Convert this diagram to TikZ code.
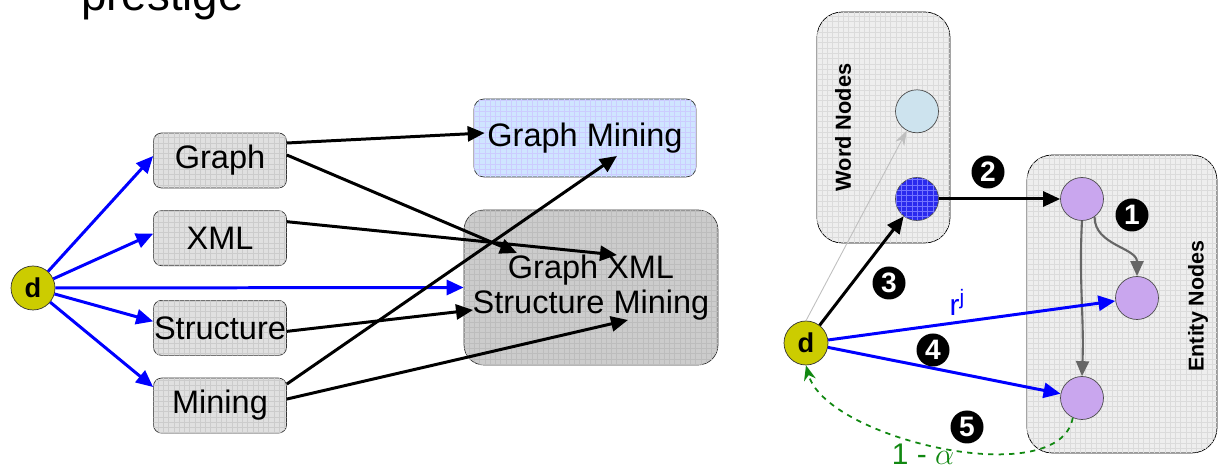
\documentclass[tikz,border=0pt]{standalone}
\usepackage{fontspec}
\setmainfont{Liberation Sans}
\usetikzlibrary{arrows.meta, positioning, patterns}

\definecolor{boxgray}{HTML}{E0E0E0}
\definecolor{biggray}{HTML}{CCCCCC}
\definecolor{panelgray}{HTML}{EEEEEE}
\definecolor{gmblue}{HTML}{CFE5FF}
\definecolor{dyellow}{HTML}{CCCC00}
\definecolor{wordlight}{HTML}{CDE3EE}
\definecolor{wordblue}{HTML}{2A2AEE}
\definecolor{entlilac}{HTML}{C9A6EE}
\definecolor{darkgreen}{HTML}{118811}

\begin{document}
\begin{tikzpicture}[x=0.02cm, y=-0.02cm,
    term/.style={rectangle, draw=black!80, rounded corners=0.16cm, fill=boxgray,
        postaction={pattern=grid, pattern color=black!20},
        minimum width=2.66cm, minimum height=1.1cm, inner sep=0pt,
        font=\fontsize{18.5}{20}\selectfont},
    result/.style={rectangle, draw=black!80, inner sep=0pt, align=center,
        font=\fontsize{18.5}{20}\selectfont},
    panel/.style={rectangle, draw=black, rounded corners=0.5cm, fill=panelgray,
        postaction={pattern=grid, pattern color=black!14}},
    doc/.style={circle, draw=black!80, fill=dyellow, minimum size=0.88cm, inner sep=0pt,
        font=\bfseries\fontsize{15.5}{16}\selectfont},
    vert/.style={circle, draw=black!70, minimum size=0.86cm, inner sep=0pt},
    num/.style={circle, fill=black, text=white, minimum size=0.66cm, inner sep=0pt,
        font=\bfseries\fontsize{16}{16}\selectfont},
    blueline/.style={draw=blue, line width=1.7pt, -{Triangle[length=0.34cm, width=0.3cm]}},
    blackline/.style={draw=black, line width=1.7pt, -{Triangle[length=0.34cm, width=0.3cm]}},
    grayline/.style={draw=black!60, line width=1.2pt, -{Triangle[length=0.3cm, width=0.26cm]}},
    faint/.style={draw=black!25, line width=0.5pt, -{Stealth[length=0.3cm, width=0.2cm]}},
    greendash/.style={draw=darkgreen, dashed, line width=1pt, -{Stealth[length=0.3cm, width=0.24cm]}}
]
\useasboundingbox (0,0) rectangle (1218,475);

% title (cut at the top)
\node[anchor=base west, font=\fontsize{26}{30}\selectfont] (title) at (75,11) {prestige};

% left side: query terms
\node[doc] (dL) at (33,288) {d};
\node[term] (Graph) at (220,160.5) {Graph};
\node[term, below=0.44cm of Graph] (XML) {XML};
\node[term, below=0.68cm of XML] (Structure) {Structure};
\node[term, below=0.44cm of Structure] (Mining) {Mining};

\node[result, rounded corners=0.2cm, fill=gmblue, postaction={pattern=grid, pattern color=blue!20},
    minimum width=4.44cm, minimum height=1.56cm] (GM) at (585,138) {Graph Mining};
\node[result, rounded corners=0.4cm, fill=biggray, postaction={pattern=grid, pattern color=black!26},
    minimum width=5.08cm, minimum height=3.1cm] (GXSM) at (591,287.5) {Graph XML\\Structure Mining};

\draw[blueline] (dL) -- ([yshift=0.09cm]Graph.west);
\draw[blueline] (dL) -- ([yshift=0.09cm]XML.west);
\draw[blueline] (dL) -- (GXSM.west);
\draw[blueline] (dL) -- ([yshift=0.13cm]Structure.west);
\draw[blueline] (dL) -- ([yshift=0.37cm]Mining.west);

\draw[blackline] ([yshift=0.35cm]Graph.east) -- ([xshift=0.22cm, yshift=0.1cm]GM.west);
\draw[blackline] ([yshift=0.11cm]Graph.east) -- ([xshift=-1.48cm, yshift=0.69cm]GXSM.center);
\draw[blackline] ([yshift=0.33cm]XML.east) -- ([xshift=0.52cm, yshift=0.65cm]GXSM.center);
\draw[blackline] ([yshift=-0.07cm]Structure.east) -- ([xshift=-2.36cm, yshift=-0.45cm]GXSM.center);
\draw[blackline] ([yshift=0.43cm]Mining.east) -- ([xshift=0.64cm, yshift=-0.36cm]GM.center);
\draw[blackline] ([yshift=0.13cm]Mining.east) -- ([xshift=0.74cm, yshift=-0.65cm]GXSM.center);

% right side: word and entity graph
\node[panel, minimum width=2.66cm, minimum height=4.62cm] (WordBox) at (883.5,127.5) {};
\node[panel, minimum width=3.8cm, minimum height=5.96cm] (EntityBox) at (1122,304) {};
\node[rotate=90, font=\bfseries\fontsize{12.4}{13}\selectfont] (WordLbl) at (843,127.5) {Word Nodes};
\node[rotate=90, font=\bfseries\fontsize{12.2}{13}\selectfont] (EntityLbl) at (1198,306) {Entity Nodes};

\node[vert, fill=wordblue, postaction={pattern=grid, pattern color=blue!55}] (wBlue) at (917,199) {};
\node[vert, fill=wordlight, above=0.88cm of wBlue] (wLight) {};
\node[vert, fill=entlilac] (e1) at (1082,199) {};
\node[vert, fill=entlilac] (e2) at (1137,298) {};
\node[vert, fill=entlilac] (e3) at (1082,398) {};
\node[doc] (dR) at (806,343) {d};

\draw[faint] (dR.north) -- (wLight);
\draw[blackline] (wBlue) -- (e1);
\draw[blackline] (dR) -- (wBlue);
\draw[grayline] (e1.-55) to[out=-90, in=90] (e2.north);
\draw[grayline] (e1.south) to[out=-93, in=88] (e3.north);
\draw[blueline] (dR) -- (e2) node[pos=0.45, above, text=blue, font=\fontsize{17}{18}\selectfont] {r\textsuperscript{j}};
\draw[blueline] (dR) -- (e3);
\draw[greendash] (e3.-115) to[out=-100, in=-75, looseness=0.72]
    node[pos=0.55, below=-3pt, text=darkgreen, font=\fontsize{17}{18}\selectfont] (alphaLbl) {1 - $\alpha$} (dR.south);

% step numbers
\node[num] (n1) at (1132,215) {1};
\node[num] (n2) at (988,172) {2};
\node[num] (n3) at (889,283) {3};
\node[num] (n4) at (933,350) {4};
\node[num] (n5) at (967,427) {5};

\end{tikzpicture}
\end{document}
